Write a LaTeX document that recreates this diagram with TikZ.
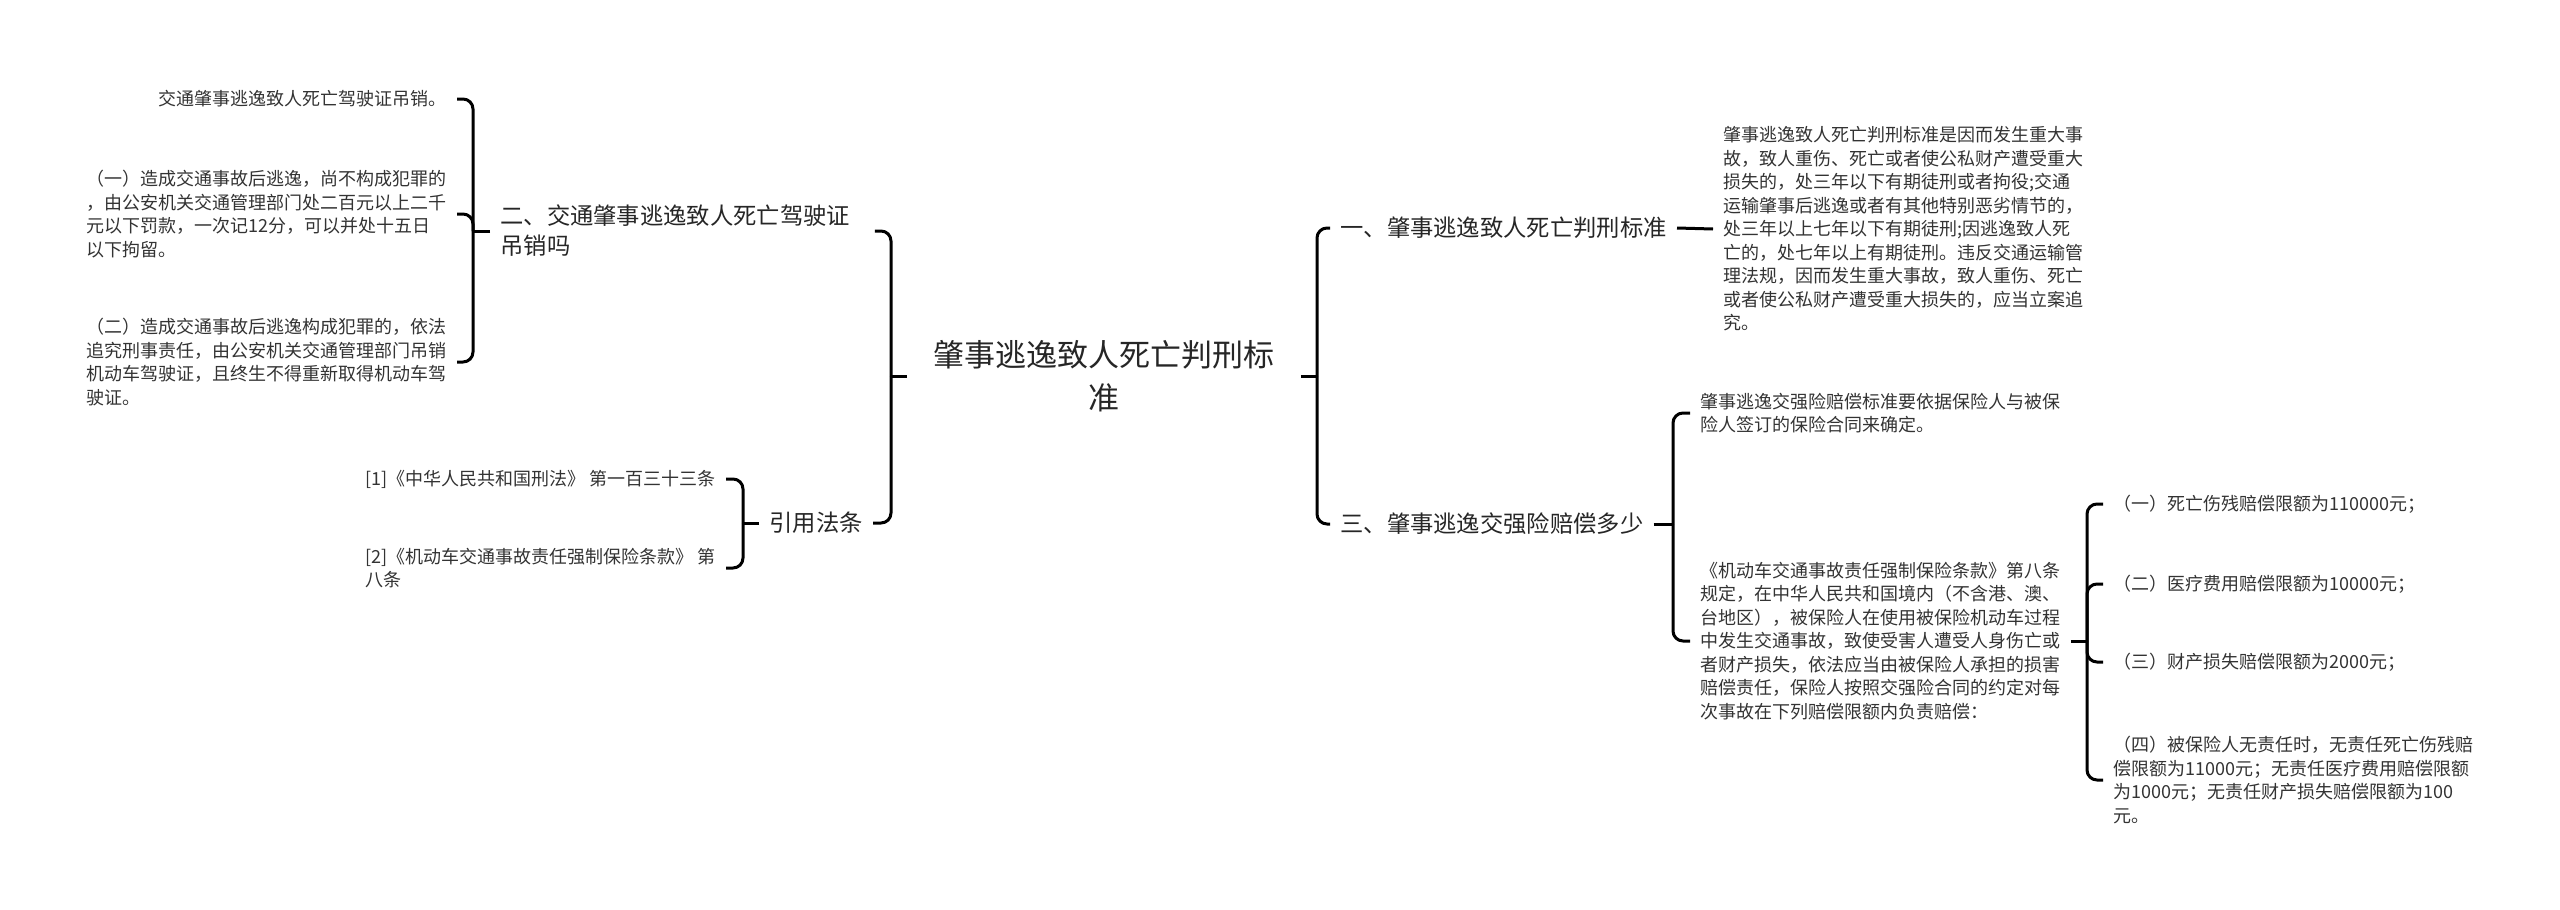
\documentclass[tikz,border=0pt]{standalone}
\usepackage{fontspec}
\setmainfont{Noto Sans CJK SC}

\begin{document}
\begin{tikzpicture}[
  x=0.5pt, y=-0.5pt,
  central/.style={inner xsep=13pt, inner ysep=2pt, align=center, text=black!85, font=\fontsize{15.5}{21.5}\selectfont},
  topic/.style={inner xsep=5pt, inner ysep=2pt, align=left, text=black!85, font=\fontsize{11.65}{15}\selectfont},
  leaf/.style={inner xsep=5pt, inner ysep=2pt, align=left, text=black!80, font=\fontsize{9}{11.75}\selectfont},
  link/.style={line width=1.5pt, rounded corners=5pt}
]

\useasboundingbox (0,0) rectangle (2560,910);

% Root
\node[central] (root) at (1104, 376) {肇事逃逸致人死亡判刑标\\准};
\coordinate (jl) at (891, 376);
\coordinate (jr) at (1317, 376);

% Left topics
\node[topic, anchor=west, text width=182pt] (n2) at (490, 231) {二、交通肇事逃逸致人死亡驾驶证\\吊销吗};
\node[topic, anchor=east] (law) at (873, 523) {引用法条};
\coordinate (j2) at (473, 231);
\coordinate (jlaw) at (743, 523);

% Right topics
\node[topic, anchor=west] (n1) at (1330, 228) {一、肇事逃逸致人死亡判刑标准};
\node[topic, anchor=west] (n3) at (1330, 524) {三、肇事逃逸交强险赔偿多少};
\coordinate (j3) at (1673, 524);

% Leaves of 二
\node[leaf, anchor=east] (c1) at (457, 99) {交通肇事逃逸致人死亡驾驶证吊销。};
\node[leaf, anchor=east] (c2) at (457, 214) {（一）造成交通事故后逃逸，尚不构成犯罪的\\，由公安机关交通管理部门处二百元以上二千\\元以下罚款，一次记12分，可以并处十五日\\以下拘留。};
\node[leaf, anchor=east] (c3) at (457, 362) {（二）造成交通事故后逃逸构成犯罪的，依法\\追究刑事责任，由公安机关交通管理部门吊销\\机动车驾驶证，且终生不得重新取得机动车驾\\驶证。};

% Leaves of 引用法条
\node[leaf, anchor=east] (r1) at (726, 479) {[1]《中华人民共和国刑法》 第一百三十三条};
\node[leaf, anchor=east] (r2) at (726, 568) {[2]《机动车交通事故责任强制保险条款》 第\\八条};

% Leaf of 一
\node[leaf, anchor=west] (d1) at (1713, 229) {肇事逃逸致人死亡判刑标准是因而发生重大事\\故，致人重伤、死亡或者使公私财产遭受重大\\损失的，处三年以下有期徒刑或者拘役;交通\\运输肇事后逃逸或者有其他特别恶劣情节的，\\处三年以上七年以下有期徒刑;因逃逸致人死\\亡的，处七年以上有期徒刑。违反交通运输管\\理法规，因而发生重大事故，致人重伤、死亡\\或者使公私财产遭受重大损失的，应当立案追\\究。};

% Leaves of 三
\node[leaf, anchor=west] (d2) at (1690, 413) {肇事逃逸交强险赔偿标准要依据保险人与被保\\险人签订的保险合同来确定。};
\node[leaf, anchor=west] (d3) at (1690, 641) {《机动车交通事故责任强制保险条款》第八条\\规定，在中华人民共和国境内（不含港、澳、\\台地区），被保险人在使用被保险机动车过程\\中发生交通事故，致使受害人遭受人身伤亡或\\者财产损失，依法应当由被保险人承担的损害\\赔偿责任，保险人按照交强险合同的约定对每\\次事故在下列赔偿限额内负责赔偿：};
\coordinate (jd3) at (2087, 641);

% Limits
\node[leaf, anchor=west] (e1) at (2103, 504) {（一）死亡伤残赔偿限额为110000元；};
\node[leaf, anchor=west] (e2) at (2103, 584) {（二）医疗费用赔偿限额为10000元；};
\node[leaf, anchor=west] (e3) at (2103, 662) {（三）财产损失赔偿限额为2000元；};
\node[leaf, anchor=west] (e4) at (2103, 780) {（四）被保险人无责任时，无责任死亡伤残赔\\偿限额为11000元；无责任医疗费用赔偿限额\\为1000元；无责任财产损失赔偿限额为100\\元。};

% Connectors
\draw[link] (root.west) -- (jl);
\draw[link] (jl) |- (n2.east);
\draw[link] (jl) |- (law.east);
\draw[link] (root.east) -- (jr);
\draw[link] (jr) |- (n1.west);
\draw[link] (jr) |- (n3.west);

\draw[link] (n2.west) -- (j2);
\foreach \c in {c1, c2, c3}
  \draw[link] (j2) |- (\c.east);

\draw[link] (law.west) -- (jlaw);
\foreach \c in {r1, r2}
  \draw[link] (jlaw) |- (\c.east);

\draw[link] (n1.east) -- (d1.west);

\draw[link] (n3.east) -- (j3);
\foreach \c in {d2, d3}
  \draw[link] (j3) |- (\c.west);

\draw[link] (d3.east) -- (jd3);
\foreach \c in {e1, e2, e3, e4}
  \draw[link] (jd3) |- (\c.west);

\end{tikzpicture}
\end{document}
